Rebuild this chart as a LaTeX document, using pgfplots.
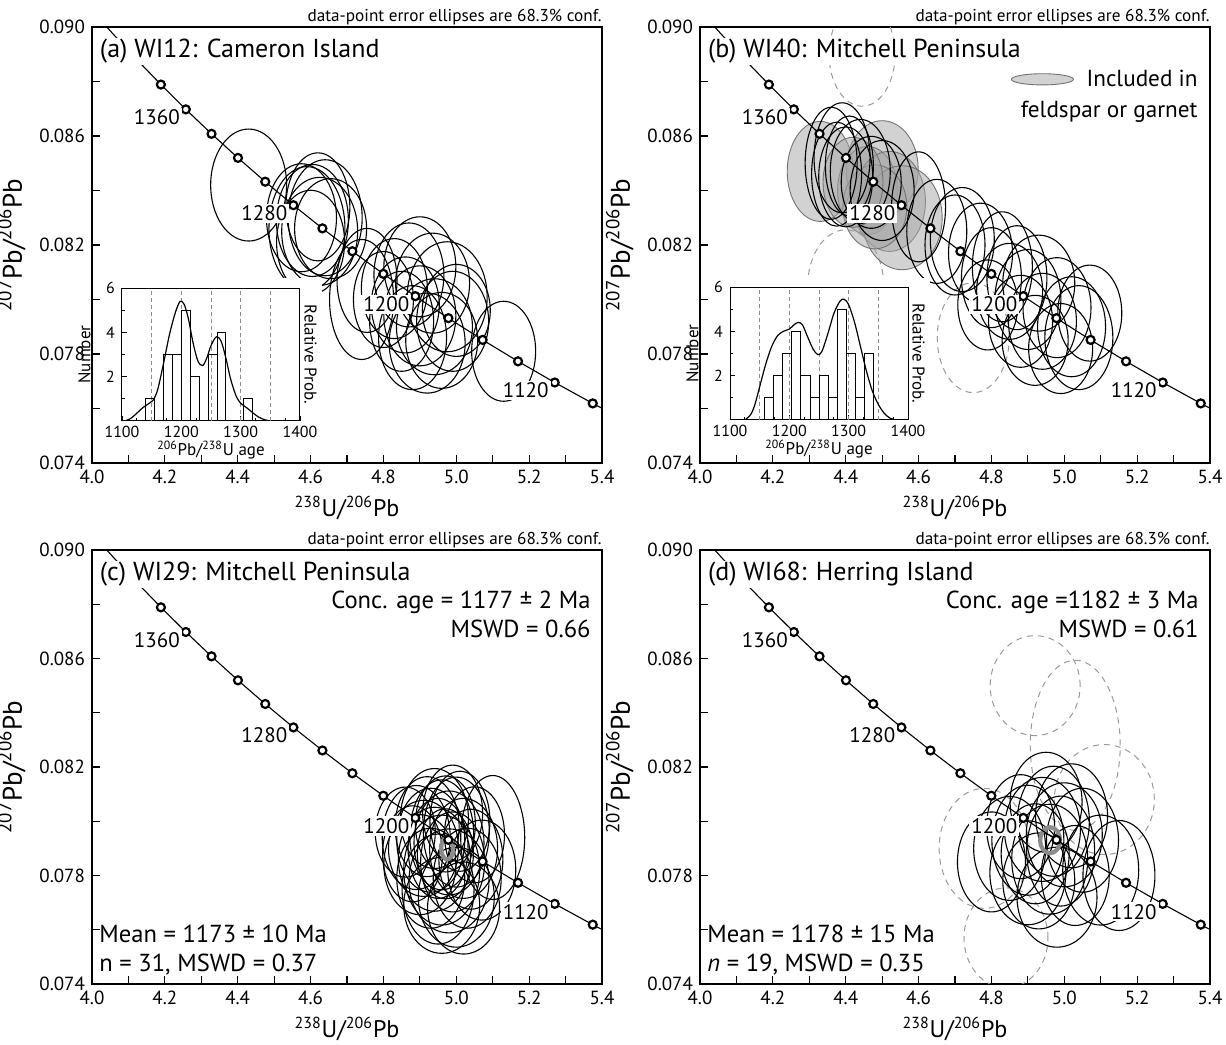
\documentclass[border=0pt]{standalone}
\usepackage{fontspec}
\setmainfont{PT Sans}
\usepackage{pgfplots}
\usepackage{pgfplotstable}
\pgfplotsset{compat=1.18}
\pgfdeclareplotmark{nothing}{}
\newcommand\ttl{\fontsize{13}{14}\selectfont}
\newcommand\txt{\fontsize{12.3}{13}\selectfont}
\newcommand\lgd{\fontsize{11.6}{12}\selectfont}
\newcommand\note{\fontsize{8.6}{9.5}\selectfont}
\tikzset{
  blk/.style={draw=black, line width=0.55pt},
  gfill/.style={draw=black!55, line width=0.45pt, fill=black!35, fill opacity=0.5},
  dsh/.style={draw=black!40, line width=0.5pt, dash pattern=on 3pt off 2.5pt},
  cgray/.style={draw=black!45, line width=2.1pt},
  agelab/.style={font=\fontsize{10.5}{11}\selectfont, fill=white, inner sep=1pt, xshift=-14.5pt, yshift=-4pt},
  ttlnode/.style={anchor=base west, font=\ttl, fill=white, inner sep=0.8pt},
}
\pgfplotsset{
  ell/.style={scatter, only marks, mark=nothing,
    visualization depends on={value \thisrow{a} \as \ellA},
    visualization depends on={value \thisrow{b} \as \ellB},
    visualization depends on={value \thisrow{t} \as \ellT},
    scatter/@pre marker code/.code={\path[#1, rotate=\ellT] (0pt,0pt) ellipse [x radius=\ellA pt, y radius=\ellB pt];},
    scatter/@post marker code/.code={},
  },
  mainax/.style={
    scale only axis, width=255pt, height=218pt, anchor=south west,
    xmin=4, xmax=5.4, ymin=0.074, ymax=0.090,
    xtick={4.0,4.2,4.4,4.6,4.8,5.0,5.2,5.4},
    minor xtick={4.1,4.3,4.5,4.7,4.9,5.1,5.3},
    ytick={0.074,0.078,0.082,0.086,0.090},
    minor ytick={0.076,0.080,0.084,0.088},
    tick align=inside, tick pos=left,
    major tick length=4pt, minor tick length=4pt,
    every tick/.style={black, line width=0.6pt},
    axis line style={line width=0.7pt},
    scaled y ticks=false, scaled x ticks=false,
    xticklabel style={/pgf/number format/.cd, fixed, fixed zerofill, precision=1},
    yticklabel style={/pgf/number format/.cd, fixed, fixed zerofill, precision=3},
    /pgf/number format/assume math mode=true,
    tick label style={font=\fontsize{9.5}{10}\selectfont},
    xlabel style={font=\fontsize{12}{13}\selectfont, yshift=0.5pt},
    ylabel style={font=\fontsize{13.5}{14}\selectfont},
    xlabel={\textsuperscript{238}U/\textsuperscript{206}Pb},
    ylabel={\textsuperscript{207}Pb/\textsuperscript{206}Pb},
    clip marker paths=true,
  },
  inset/.style={
    scale only axis, width=89pt, height=66.5pt, anchor=south west,
    xmin=1100, xmax=1400, ymin=0, ymax=6,
    xtick={1100,1200,1300,1400}, minor x tick num=3,
    ytick={2,4,6}, minor ytick={1,3,5},
    extra x ticks={1150,1200,1250,1300,1350},
    extra x tick labels={},
    extra x tick style={grid=major, major grid style={black!45, dash pattern=on 2pt off 1.5pt, line width=0.35pt}, major tick length=0pt},
    tick align=inside, tick pos=left,
    major tick length=2.5pt, minor tick length=1.5pt,
    every tick/.style={black, line width=0.4pt},
    /pgf/number format/assume math mode=true,
    /pgf/number format/1000 sep={},
    tick label style={font=\fontsize{8}{9}\selectfont},
    xticklabel style={yshift=1pt},
    label style={font=\fontsize{8.5}{9}\selectfont},
    xlabel={\textsuperscript{206}Pb/\textsuperscript{238}U age},
    ylabel={Number},
    xlabel style={yshift=5pt}, ylabel style={yshift=1pt},
    axis line style={line width=0.5pt},
  },
}
\pgfplotstableread{
x y
5.42835 0.075808
5.37459 0.076187
5.27021 0.076954
5.16948 0.077731
5.07223 0.078517
4.97832 0.079315
4.88751 0.080123
4.79971 0.080940
4.71474 0.081770
4.63248 0.082610
4.55280 0.083460
4.47558 0.084323
4.40071 0.085196
4.32807 0.086080
4.25755 0.086977
4.18915 0.087887
4.12268 0.088808
4.05805 0.089740
3.99527 0.090685
}\conc
\pgfplotstableread{
x y
5.37459 0.076187
5.27021 0.076954
5.16948 0.077731
5.07223 0.078517
4.97832 0.079315
4.88751 0.080123
4.79971 0.080940
4.71474 0.081770
4.63248 0.082610
4.55280 0.083460
4.47558 0.084323
4.40071 0.085196
4.32807 0.086080
4.25755 0.086977
4.18915 0.087887
}\concmk
\newcommand\concordia{%
  \addplot[black, line width=0.55pt] table {\conc};
  \addplot[only marks, mark=*, mark size=2pt, mark options={fill=white, draw=black, line width=1.1pt}] table {\concmk};
  \node[agelab] at (axis cs:4.25755,0.086977) {1360};
  \node[agelab] at (axis cs:4.55280,0.083460) {1280};
  \node[agelab] at (axis cs:4.88751,0.080123) {1200};
  \node[agelab] at (axis cs:5.27021,0.076954) {1120};
}
\begin{document}
\begin{tikzpicture}
\path[use as bounding box] (0,0) rectangle (613pt,522pt);
%% ---------------- (a)
\begin{axis}[mainax, at={(46pt,290.5pt)}, name=A]
\addplot[ell=blk] table {
x y a b t
4.590 0.0826 19 31 -22
4.605 0.0829 18 28 -22
4.625 0.0825 19 27 -20
4.640 0.0830 18.5 29 -20
4.600 0.0821 17 26 -24
4.655 0.0826 18 25 -18
4.575 0.0830 17.5 27 -24
4.620 0.0834 16 27 -20
4.430 0.0842 19 28 -22
4.755 0.0807 15 26 -18
4.830 0.0804 16.5 25 -18
4.870 0.0809 17.5 26 -18
4.900 0.0812 18 25 -15
4.935 0.0806 18.5 25 -18
4.975 0.0801 20 27.5 -18
4.860 0.0798 17 24 -18
4.900 0.0794 18 25 -18
4.940 0.0790 19 24 -15
4.990 0.0792 18 25 -18
4.880 0.0786 17 26 -18
4.920 0.0784 19 25 -12
4.960 0.0785 18 24 -18
5.000 0.0796 17 23 -18
4.850 0.0792 16 25 -18
4.800 0.0800 15 24 -18
5.130 0.0781 16 25 -18
4.740 0.0800 16 30 -30
};
\concordia
\node[ttlnode] at ([xshift=3pt,yshift=-15.5pt]rel axis cs:0,1) {(a) WI12: Cameron Island};
\end{axis}
\node[anchor=base east, font=\note, inner sep=0pt] at ([yshift=2.5pt]A.north east) {data-point error ellipses are 68.3\% conf.};
\fill[white] (50pt,300pt) rectangle (161pt,383pt);
\begin{axis}[inset, at={(61pt,311.5pt)}, name=IA]
\addplot[ybar, bar width=15, bar shift=0pt, fill=none, draw=black, line width=0.35pt] table {
x y
1147.5 1
1177.5 3
1192.5 3
1207.5 5
1222.5 2
1252.5 3
1267.5 4
1312.5 1
};
\addplot[smooth, black, line width=0.6pt] coordinates {(1105,0) (1115,0.12) (1125,0.35) (1135,0.6) (1145,0.78) (1152,0.92) (1160,1.4) (1170,2.6) (1180,3.9) (1190,4.9) (1198,5.4) (1205,5.25) (1212,4.6) (1220,3.5) (1228,2.7) (1236,2.5) (1243,2.85) (1250,3.4) (1259,3.8) (1267,3.6) (1275,2.85) (1283,1.9) (1292,1.15) (1300,0.8) (1310,0.6) (1320,0.38) (1330,0.18) (1340,0.06) (1350,0)};
\end{axis}
\node[rotate=-90, anchor=south, font=\fontsize{8.5}{9}\selectfont, inner sep=1pt] at ([xshift=1pt]IA.east) {Relative Prob.};
%% ---------------- (b)
\begin{axis}[mainax, at={(350pt,290.5pt)}, name=B]
\addplot[ell=dsh] table {
x y a b t
4.445 0.0890 16.5 26 -15
4.400 0.0805 19 28 -15
4.750 0.0786 18 27.5 -15
};
\addplot[ell=gfill] table {
x y a b t
4.330 0.0847 16.5 25 -24
4.500 0.0848 18 24 -22
4.460 0.0840 15 22 -22
4.520 0.0836 18 25 -22
4.555 0.0830 20 26 -18
4.480 0.0834 16 21 -22
4.420 0.0843 15 22.5 -22
4.940 0.08808 15.5 2.8 0
};
\addplot[ell=blk] table {
x y a b t
4.360 0.0850 13 28 -24
4.375 0.0846 12.5 26 -22
4.390 0.0852 14 27.5 -25
4.400 0.0845 13.5 25 -24
4.440 0.0847 15 26 -22
4.470 0.0843 15 23 -22
4.500 0.0840 16 25 -18
4.410 0.0849 12 25 -24
4.600 0.0834 13.5 27.5 -18
4.650 0.0825 15 26 -15
4.700 0.0820 15 25 -15
4.720 0.0822 16 26 -18
4.770 0.0817 16 25 -18
4.800 0.0808 15 25 -18
4.830 0.0812 15 27.5 -12
4.850 0.0803 16.5 24 -18
4.870 0.0808 15 26 -15
4.900 0.0800 16.5 25 -18
4.930 0.0806 18 24 -18
4.880 0.0792 16 23 -18
4.940 0.0792 17 24 -18
4.980 0.0797 17 25 -18
5.020 0.0790 17 25 -18
4.920 0.0785 16.5 22.5 -18
4.790 0.0798 15 22.5 -18
4.990 0.0782 16 22.5 -15
5.040 0.0786 17 26 -15
5.070 0.0795 16 24 -15
};
\concordia
\node[ttlnode] at ([xshift=3pt,yshift=-15.5pt]rel axis cs:0,1) {(b) WI40: Mitchell Peninsula};
\node[anchor=base east, font=\lgd, inner sep=0pt] at ([xshift=-6pt,yshift=-30pt]rel axis cs:1,1) {Included in};
\node[anchor=base east, font=\lgd, inner sep=0pt] at ([xshift=-6pt,yshift=-45.5pt]rel axis cs:1,1) {feldspar or garnet};
\end{axis}
\node[anchor=base east, font=\note, inner sep=0pt] at ([yshift=2.5pt]B.north east) {data-point error ellipses are 68.3\% conf.};
\fill[white] (354pt,300pt) rectangle (465pt,383pt);
\begin{axis}[inset, at={(365pt,312pt)}, name=IB]
\addplot[ybar, bar width=15.33, bar shift=0pt, fill=none, draw=black, line width=0.35pt] table {
x y
1165.7 1
1181.0 2
1196.3 3
1211.7 4
1227.0 2
1242.3 1
1257.7 2
1273.0 1
1288.3 5
1303.7 3
1319.0 1
1334.3 3
};
\addplot[smooth, black, line width=0.6pt] coordinates {(1125,0) (1135,0.25) (1142,0.7) (1150,1.5) (1160,2.5) (1170,3.3) (1180,3.8) (1190,4.0) (1200,4.1) (1208,4.3) (1215,4.4) (1222,4.3) (1230,3.8) (1240,3.2) (1248,2.95) (1255,3.1) (1265,3.9) (1275,4.8) (1285,5.35) (1292,5.45) (1300,5.2) (1310,4.4) (1320,3.3) (1330,2.2) (1340,1.3) (1350,0.7) (1360,0.3) (1370,0.08) (1380,0)};
\end{axis}
\node[rotate=-90, anchor=south, font=\fontsize{8.5}{9}\selectfont, inner sep=1pt] at ([xshift=1pt]IB.east) {Relative Prob.};
%% ---------------- (c)
\begin{axis}[mainax, height=217pt, at={(46pt,30pt)}, name=C]
\addplot[ell=blk] table {
x y a b t
4.96 0.0795 16 27.5 -12
4.98 0.0792 17.5 26 -15
4.95 0.0790 15 25 -10
5.00 0.0796 16.5 27.5 -15
4.93 0.0793 17 26 -12
4.97 0.0799 15 24 -10
5.02 0.0790 17 25 -15
4.94 0.0786 18 26 -15
4.99 0.0785 16 25 -12
4.91 0.0790 17.5 24 -15
4.96 0.0782 19 27.5 -15
5.01 0.0800 15 25 -10
4.92 0.0798 16 25 -12
4.98 0.0778 20 26 -15
5.04 0.0786 16 25 -15
4.89 0.0794 17 26 -15
4.95 0.0775 18 27.5 -15
5.00 0.0772 19 25 -12
4.90 0.0784 18 25 -15
4.97 0.0788 14 22.5 -10
5.05 0.0795 15 24 -15
4.88 0.0788 15 24 -15
4.94 0.0801 17 25 -12
5.03 0.0779 17 25 -15
4.93 0.0779 17 25 -12
4.99 0.0803 15 24 -10
5.10 0.0794 16 31 -20
5.07 0.0782 17 25 -15
4.86 0.0796 15 22.5 -15
4.96 0.0769 19 24 -10
5.02 0.0768 18 23 -10
};
\addplot[ell=cgray] table {
x y a b t
4.975 0.0790 3 5.5 -20
};
\concordia
\node[ttlnode] at ([xshift=3pt,yshift=-15.5pt]rel axis cs:0,1) {(c) WI29: Mitchell Peninsula};
\node[anchor=base east, font=\txt, inner sep=0pt] at ([xshift=-5.5pt,yshift=-29.5pt]rel axis cs:1,1) {Conc. age = 1177 ± 2 Ma};
\node[anchor=base east, font=\txt, inner sep=0pt] at ([xshift=-5.5pt,yshift=-44pt]rel axis cs:1,1) {MSWD = 0.66};
\node[anchor=base west, font=\txt, inner sep=0pt] at ([xshift=3.5pt,yshift=20.5pt]rel axis cs:0,0) {Mean = 1173 ± 10 Ma};
\node[anchor=base west, font=\txt, inner sep=0pt] at ([xshift=3.5pt,yshift=6.25pt]rel axis cs:0,0) {n = 31, MSWD = 0.37};
\end{axis}
\node[anchor=base east, font=\note, inner sep=0pt] at ([yshift=2.5pt]C.north east) {data-point error ellipses are 68.3\% conf.};
%% ---------------- (d)
\begin{axis}[mainax, height=217pt, at={(350pt,30pt)}, name=D]
\addplot[ell=dsh] table {
x y a b t
4.92 0.0850 22.5 25 -10
5.03 0.0828 22.5 42.5 -15
5.11 0.0808 25 27.5 -15
4.78 0.0790 22.5 30 -15
4.84 0.0757 21 25 -10
};
\addplot[ell=blk] table {
x y a b t
4.90 0.0793 18 27.5 -12
4.94 0.0797 19 26 -15
4.97 0.0800 18 27.5 -12
5.00 0.0795 19 26 -15
4.92 0.0788 17 25 -12
4.96 0.0786 19 27.5 -15
5.02 0.0802 18 26 -12
4.88 0.0798 17 26 -15
4.95 0.0807 18 25 -10
4.99 0.0789 17 27.5 -15
4.85 0.0790 18 26 -12
4.80 0.0785 17 25 -15
5.05 0.0793 18 26 -15
5.10 0.0782 19 27.5 -15
4.93 0.0778 18 24 -12
4.90 0.0781 19 26 -12
5.03 0.0780 17 25 -15
4.98 0.0772 20 25 -15
5.15 0.0780 18 27.5 -10
};
\addplot[ell=cgray] table {
x y a b t
4.961 0.0793 5 6.5 -25
};
\concordia
\node[ttlnode] at ([xshift=3pt,yshift=-15.5pt]rel axis cs:0,1) {(d) WI68: Herring Island};
\node[anchor=base east, font=\txt, inner sep=0pt] at ([xshift=-5.5pt,yshift=-29.5pt]rel axis cs:1,1) {Conc. age =1182 ± 3 Ma};
\node[anchor=base east, font=\txt, inner sep=0pt] at ([xshift=-5.5pt,yshift=-44pt]rel axis cs:1,1) {MSWD = 0.61};
\node[anchor=base west, font=\txt, inner sep=0pt] at ([xshift=3.5pt,yshift=20.5pt]rel axis cs:0,0) {Mean = 1178 ± 15 Ma};
\node[anchor=base west, font=\txt, inner sep=0pt] at ([xshift=3.5pt,yshift=6.25pt]rel axis cs:0,0) {\textit{n} = 19, MSWD = 0.35};
\end{axis}
\node[anchor=base east, font=\note, inner sep=0pt] at ([yshift=2.5pt]D.north east) {data-point error ellipses are 68.3\% conf.};
\end{tikzpicture}
\end{document}
